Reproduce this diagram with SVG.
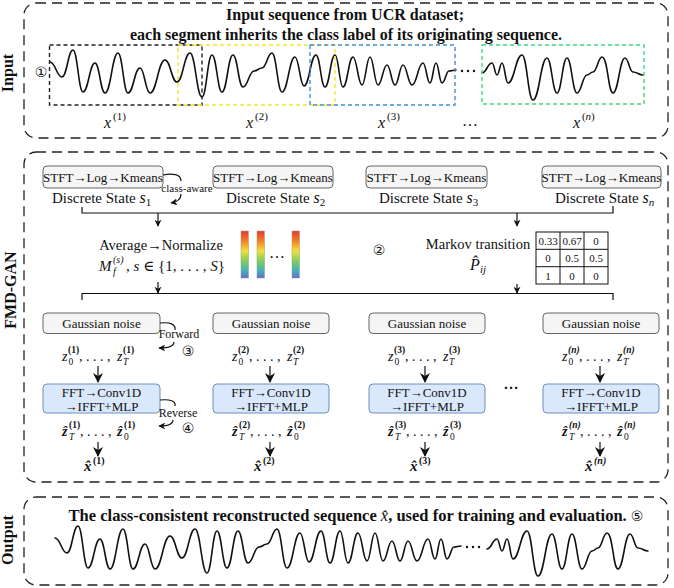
<svg xmlns="http://www.w3.org/2000/svg" xmlns:xlink="http://www.w3.org/1999/xlink" width="674" height="588" viewBox="0 0 674 588">
<style>
text{font-family:"Liberation Serif","DejaVu Serif","Noto Sans CJK SC",serif;fill:#111}
.b{font-weight:bold}
.i{font-style:italic}
.c{text-anchor:middle}
.frame{fill:none;stroke:#222;stroke-width:1.3;stroke-dasharray:10 6}
.seg{fill:none;stroke-width:1.4;stroke-dasharray:4 3}
.gray{fill:#f5f5f5;stroke:#666;stroke-width:1}
.blue{fill:#dae8fc;stroke:#6c8ebf;stroke-width:1}
.ln{fill:none;stroke:#111;stroke-width:1.2}
.wave{fill:none;stroke:#111;stroke-width:1.6;stroke-linecap:round}
.bar{stroke:#999;stroke-width:0.5;fill:url(#spec)}
.mat{fill:none;stroke:#111;stroke-width:1}
.box{font-size:13px}
.lbl{font-size:15px}
.sm{font-size:9.5px}
.mt{font-size:11px}
.circ{font-family:"DejaVu Sans","Noto Sans CJK SC",sans-serif;font-size:14px}
</style>
<defs>
<marker id="ah" viewBox="0 0 10 10" refX="9" refY="5" markerWidth="10" markerHeight="10" markerUnits="userSpaceOnUse" orient="auto"><path d="M0,0 L10,5 L0,10 L3,5 Z" fill="#111"/></marker>
<marker id="ahs" viewBox="0 0 10 10" refX="9" refY="5" markerWidth="7" markerHeight="7" markerUnits="userSpaceOnUse" orient="auto"><path d="M0,0 L10,5 L0,10 L3,5 Z" fill="#111"/></marker>
<linearGradient id="spec" x1="0" y1="0" x2="0" y2="1">
<stop offset="0" stop-color="#e53935"/>
<stop offset="0.2" stop-color="#f57c1f"/>
<stop offset="0.42" stop-color="#f2e03a"/>
<stop offset="0.64" stop-color="#7fcf5a"/>
<stop offset="0.82" stop-color="#45b8b0"/>
<stop offset="1" stop-color="#5a6fd6"/>
</linearGradient>
<g id="wave">
<path class="wave" d="M50,62 C55.4,62 56.6,77 62,77 C67,77 68,50 73,50 C77.5,50 78.5,92 83,92 C88.4,92 89.6,63 95,63 C99.5,63 100.5,93 105,93 C110.9,93 112.2,53 118,53 C122.5,53 123.5,93 128,93 C133.4,93 134.6,68 140,68 C144.5,68 145.5,93 150,93 C156.8,93 158.2,60 165,60 C170.4,60 171.6,82 177,82 C182.9,82 184.2,53 190,53 C195.4,53 196.6,97 202,97 C206.5,97 207.5,55 212,55 C216.5,55 217.5,92 222,92 C227,92 228,55 233,55 C237.5,55 238.5,87 243,87 C248,87 249,71 254,71 C257.6,71 258.4,68 262,68 C266.5,68 267.5,53 272,53 C276.5,53 277.5,92 282,92 C287.9,92 289.2,57 295,57 C299,57 300,86 304,86 C309.4,86 310.6,55 316,55 C320,55 321,87 325,87 C329.5,87 330.5,55 335,55 C338.6,55 339.4,87 343,87 C347.5,87 348.5,57 353,57 C357,57 358,85 362,85 C365.6,85 366.4,57 370,57 C373.6,57 374.4,85 378,85 C382,85 383,65 387,65 C390.6,65 391.4,85 395,85 C398.6,85 399.4,65 403,65 C407,65 408,85 412,85 C417,85 418,63 423,63 C426.2,63 426.8,83 430,83 C432.7,83 433.3,63 436,63 C438.7,63 439.3,83 442,83 C445.2,83 446,71 449,71 C452,71 453,70 456,70"/>
<path class="wave" d="M482,73 C486.5,73 487.5,63 492,63 C494.3,63 494.8,75 497,75 C499.3,75 499.8,63 502,63 C504.7,63 505.3,83 508,83 C514.3,83 515.7,55 522,55 C527,55 528,100 533,100 C539.3,100 540.7,58 547,58 C551.5,58 552.5,93 557,93 C561.5,93 562.5,58 567,58 C571.5,58 572.5,93 577,93 C581.5,93 582.5,75 587,75 C589.7,75 590.3,72 593,72 C597,72 598,57 602,57 C608,57 608,93 613,93 C618.4,93 619.6,58 625,58 C628.6,58 629.4,72 633,72 C637.5,72 638.5,75 643,75"/>
<circle cx="462" cy="71" r="1.2" fill="#111"/><circle cx="468" cy="71" r="1.2" fill="#111"/><circle cx="474" cy="71" r="1.2" fill="#111"/>
</g>
</defs>
<rect width="674" height="588" fill="#fff"/>

<!-- Input section -->
<g id="input">
<rect class="frame" x="24" y="3" width="644" height="135" rx="12"/>
<text class="b" font-size="16" transform="translate(13,73) rotate(-90)" text-anchor="middle">Input</text>
<text class="b c" font-size="16" x="345" y="20">Input sequence from UCR dataset;</text>
<text class="b c" font-size="16" x="346" y="40">each segment inherits the class label of its originating sequence.</text>
<text class="circ c" font-size="15" x="41" y="77">①</text>
<use xlink:href="#wave"/>
<rect class="seg" x="49.5" y="45" width="152.5" height="60" stroke="#222"/>
<rect class="seg" x="178" y="45" width="157" height="60" stroke="#f3e62a"/>
<rect class="seg" x="310" y="45" width="145" height="60" stroke="#3d8fdc"/>
<rect class="seg" x="482" y="45" width="162" height="59" stroke="#3fd67e"/>
<g font-size="16"><text class="i" x="104" y="128">x</text><text x="113" y="120" font-size="11">(1)</text></g>
<g font-size="16"><text class="i" x="246" y="128">x</text><text x="255" y="120" font-size="11">(2)</text></g>
<g font-size="16"><text class="i" x="378" y="128">x</text><text x="387" y="120" font-size="11">(3)</text></g>
<text class="c" font-size="16" x="470" y="126">…</text>
<g font-size="16"><text class="i" x="573" y="128">x</text><text x="582" y="120" font-size="11">(</text><text class="i" x="585.5" y="120" font-size="11">n</text><text x="591" y="120" font-size="11">)</text></g>
</g>

<!-- FMD-GAN section -->
<rect class="frame" x="24" y="152" width="644" height="330" rx="12"/>
<text class="b" font-size="16" transform="translate(16,290) rotate(-90)" text-anchor="middle">FMD-GAN</text>

<g id="stft1"><rect class="gray" x="43" y="166" width="120" height="22" rx="4"/><text class="box c" x="103" y="181.5">STFT→Log→Kmeans</text>
<text class="lbl" x="52" y="203">Discrete State <tspan class="i" font-size="16">s</tspan><tspan font-size="11" dy="3">1</tspan></text></g>
<g id="stft2"><rect class="gray" x="213" y="166" width="120" height="22" rx="4"/><text class="box c" x="273" y="181.5">STFT→Log→Kmeans</text>
<text class="lbl" x="226" y="203">Discrete State <tspan class="i" font-size="16">s</tspan><tspan font-size="11" dy="3">2</tspan></text></g>
<g id="stft3"><rect class="gray" x="366" y="166" width="121" height="22" rx="4"/><text class="box c" x="426.5" y="181.5">STFT→Log→Kmeans</text>
<text class="lbl" x="379" y="203">Discrete State <tspan class="i" font-size="16">s</tspan><tspan font-size="11" dy="3">3</tspan></text></g>
<g id="stftn"><rect class="gray" x="542" y="166" width="119" height="22" rx="4"/><text class="box c" x="601.5" y="181.5">STFT→Log→Kmeans</text>
<text class="lbl" x="555" y="203">Discrete State <tspan class="i" font-size="16">s</tspan><tspan class="i" font-size="11" dy="3">n</tspan></text></g>

<g id="avg">
<text class="c" font-size="14.5" x="161" y="250">Average→Normalize</text>
<text class="i" font-size="15" x="99" y="271">M</text><text class="i" font-size="10" x="113" y="263">(s)</text><text class="i" font-size="10" x="113" y="275">f</text>
<text font-size="15" x="126" y="271">, <tspan class="i">s</tspan> ∈ {1, . . . , <tspan class="i">S</tspan>}</text>
</g>
<g id="bars">
<rect class="bar" x="241" y="231" width="7.5" height="47"/>
<rect class="bar" x="257" y="231" width="7.5" height="47"/>
<rect class="bar" x="292" y="231" width="7.5" height="47"/>
<text class="c" font-size="16" x="277" y="258">…</text>
</g>
<text class="circ c" font-size="15" x="379" y="255">②</text>
<g id="markov">
<text class="c" font-size="14.5" x="478" y="249">Markov transition</text>
<text class="i" font-size="16" x="470" y="270">P̂</text><text class="i" font-size="11" x="480" y="273">ij</text>
<rect class="mat" x="536" y="232" width="72" height="52"/>
<path class="mat" d="M560,232 V284 M584,232 V284 M536,249.3 H608 M536,266.7 H608"/>
<g class="mt" text-anchor="middle">
<text x="548" y="244.5">0.33</text><text x="572" y="244.5">0.67</text><text x="596" y="244.5">0</text>
<text x="548" y="262">0</text><text x="572" y="262">0.5</text><text x="596" y="262">0.5</text>
<text x="548" y="279.5">1</text><text x="572" y="279.5">0</text><text x="596" y="279.5">0</text>
</g>
</g>

<!-- Gaussian noise / FFT columns -->
<g id="col1">
<rect class="gray" x="43" y="313" width="117" height="20.5" rx="4"/><text class="box c" x="101.5" y="328">Gaussian noise</text>
<rect class="blue" x="43" y="384" width="117" height="29" rx="4"/><text class="box c" x="101.5" y="397">FFT→Conv1D</text><text class="box c" x="101.5" y="411">→IFFT+MLP</text>
</g>
<g id="col2">
<rect class="gray" x="213" y="313" width="116" height="20.5" rx="4"/><text class="box c" x="271" y="328">Gaussian noise</text>
<rect class="blue" x="213" y="384" width="116" height="29" rx="4"/><text class="box c" x="271" y="397">FFT→Conv1D</text><text class="box c" x="271" y="411">→IFFT+MLP</text>
</g>
<g id="col3">
<rect class="gray" x="369" y="313" width="116" height="20.5" rx="4"/><text class="box c" x="427" y="328">Gaussian noise</text>
<rect class="blue" x="369" y="384" width="116" height="29" rx="4"/><text class="box c" x="427" y="397">FFT→Conv1D</text><text class="box c" x="427" y="411">→IFFT+MLP</text>
</g>
<g id="coln">
<rect class="gray" x="543" y="313" width="116" height="20.5" rx="4"/><text class="box c" x="601" y="328">Gaussian noise</text>
<rect class="blue" x="543" y="384" width="116" height="29" rx="4"/><text class="box c" x="601" y="397">FFT→Conv1D</text><text class="box c" x="601" y="411">→IFFT+MLP</text>
</g>
<text class="c b" font-size="15" x="511" y="389">…</text>

<!-- z labels -->
<g id="zlabels" font-size="14">
<g transform="translate(62,361)"><text class="i">z</text><text class="b" font-size="9.5" x="6" y="-8">(1)</text><text font-size="9.5" x="6.5" y="4">0</text><text x="17">, . . . ,</text><text class="i" x="55">z</text><text class="b" font-size="9.5" x="61" y="-8">(1)</text><text class="i" font-size="9.5" x="61" y="4">T</text></g>
<g transform="translate(232,361)"><text class="i">z</text><text class="b" font-size="9.5" x="6" y="-8">(2)</text><text font-size="9.5" x="6.5" y="4">0</text><text x="17">, . . . ,</text><text class="i" x="55">z</text><text class="b" font-size="9.5" x="61" y="-8">(2)</text><text class="i" font-size="9.5" x="61" y="4">T</text></g>
<g transform="translate(388,361)"><text class="i">z</text><text class="b" font-size="9.5" x="6" y="-8">(3)</text><text font-size="9.5" x="6.5" y="4">0</text><text x="17">, . . . ,</text><text class="i" x="55">z</text><text class="b" font-size="9.5" x="61" y="-8">(3)</text><text class="i" font-size="9.5" x="61" y="4">T</text></g>
<g transform="translate(562,361)"><text class="i">z</text><text class="b i" font-size="9.5" x="6" y="-8">(n)</text><text font-size="9.5" x="6.5" y="4">0</text><text x="17">, . . . ,</text><text class="i" x="55">z</text><text class="b i" font-size="9.5" x="61" y="-8">(n)</text><text class="i" font-size="9.5" x="61" y="4">T</text></g>
</g>
<g id="zhatlabels" font-size="14">
<g transform="translate(62,436)"><text class="i b">ẑ</text><text class="b" font-size="9.5" x="7" y="-8">(1)</text><text class="i" font-size="9.5" x="7" y="4">T</text><text x="18">, . . . ,</text><text class="i b" x="55">ẑ</text><text class="b" font-size="9.5" x="62" y="-8">(1)</text><text font-size="9.5" x="62" y="4">0</text></g>
<g transform="translate(232,436)"><text class="i b">ẑ</text><text class="b" font-size="9.5" x="7" y="-8">(2)</text><text class="i" font-size="9.5" x="7" y="4">T</text><text x="18">, . . . ,</text><text class="i b" x="55">ẑ</text><text class="b" font-size="9.5" x="62" y="-8">(2)</text><text font-size="9.5" x="62" y="4">0</text></g>
<g transform="translate(388,436)"><text class="i b">ẑ</text><text class="b" font-size="9.5" x="7" y="-8">(3)</text><text class="i" font-size="9.5" x="7" y="4">T</text><text x="18">, . . . ,</text><text class="i b" x="55">ẑ</text><text class="b" font-size="9.5" x="62" y="-8">(3)</text><text font-size="9.5" x="62" y="4">0</text></g>
<g transform="translate(562,436)"><text class="i b">ẑ</text><text class="b i" font-size="9.5" x="7" y="-8">(n)</text><text class="i" font-size="9.5" x="7" y="4">T</text><text x="18">, . . . ,</text><text class="i b" x="55">ẑ</text><text class="b i" font-size="9.5" x="62" y="-8">(n)</text><text font-size="9.5" x="62" y="4">0</text></g>
</g>
<g id="xhat" font-size="15">
<g transform="translate(84,471)"><text class="i b">x̂</text><text class="b" font-size="10" x="9" y="-7">(1)</text></g>
<g transform="translate(254,471)"><text class="i b">x̂</text><text class="b" font-size="10" x="9" y="-7">(2)</text></g>
<g transform="translate(410,471)"><text class="i b">x̂</text><text class="b" font-size="10" x="9" y="-7">(3)</text></g>
<g transform="translate(585,471)"><text class="i b">x̂</text><text class="b i" font-size="10" x="9" y="-7">(n)</text></g>
</g>

<text class="mt c" x="187" y="191.5">class-aware</text>
<text class="c" font-size="12" x="179" y="338">Forward</text>
<text class="circ c" x="188" y="356">③</text>
<text class="c" font-size="12" x="178" y="417">Reverse</text>
<text class="circ c" x="188" y="433">④</text>

<!-- connectors -->
<g id="connectors">
<path class="ln" d="M82,207 V213 H613 V206"/>
<path class="ln" d="M158,213 V226" marker-end="url(#ahs)"/>
<path class="ln" d="M517,213 V226" marker-end="url(#ahs)"/>
<path class="ln" d="M158,282 V293" marker-end="url(#ahs)"/>
<path class="ln" d="M517,284 V293" marker-end="url(#ahs)"/>
<path class="ln" d="M82,300 V293.5 H613 V300"/>
<path class="ln" d="M163,175 C172,173 181,174 181,181"/>
<path class="ln" d="M181,194 C181,199 177,202 171,203" marker-end="url(#ahs)"/>
<path class="ln" d="M160,323 C170,322 176,324 175,330"/>
<path class="ln" d="M174,342 C174,346 168,348 159,348" marker-end="url(#ahs)"/>
<path class="ln" d="M160,400 C170,399 176,401 175,406"/>
<path class="ln" d="M173,420 C173,424 168,426 159,426" marker-end="url(#ahs)"/>
<path class="ln" d="M98,366 V382" marker-end="url(#ah)"/>
<path class="ln" d="M270,366 V382" marker-end="url(#ah)"/>
<path class="ln" d="M425,366 V382" marker-end="url(#ah)"/>
<path class="ln" d="M600,366 V382" marker-end="url(#ah)"/>
<path class="ln" d="M98,442 V456" marker-end="url(#ah)"/>
<path class="ln" d="M270,442 V456" marker-end="url(#ah)"/>
<path class="ln" d="M425,442 V456" marker-end="url(#ah)"/>
<path class="ln" d="M600,442 V456" marker-end="url(#ah)"/>
</g>

<!-- Output section -->
<g id="output">
<rect class="frame" x="24" y="497" width="644" height="88" rx="12"/>
<text class="b" font-size="16" transform="translate(13,540) rotate(-90)" text-anchor="middle">Output</text>
<text class="b c" font-size="16.5" x="356" y="521">The class-consistent reconstructed sequence <tspan class="i" font-weight="normal">x̂</tspan>, used for training and evaluation. <tspan class="circ" font-size="15" font-weight="normal">⑤</tspan></text>
<use xlink:href="#wave" transform="translate(5,476)"/>
</g>
</svg>
